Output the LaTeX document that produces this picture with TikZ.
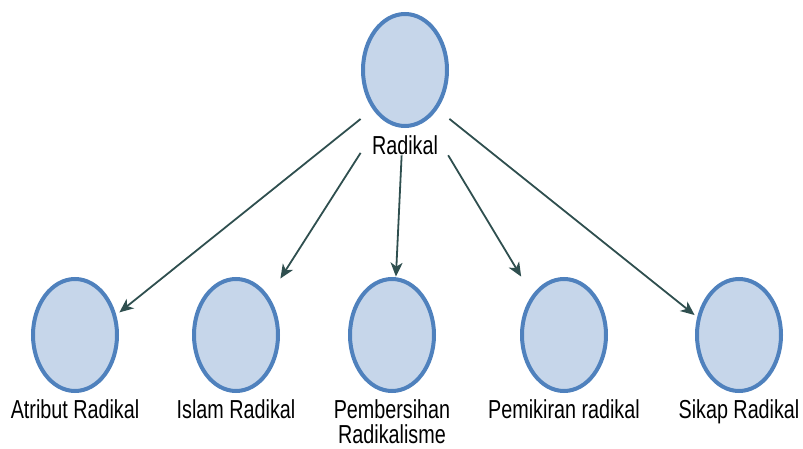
\documentclass[tikz,border=0pt]{standalone}
\usepackage{fontspec}
\setmainfont{Liberation Sans}[FakeStretch=0.76]
\usetikzlibrary{positioning,fit,shapes.geometric,arrows.meta}
\definecolor{bubblefill}{RGB}{198,214,234}
\definecolor{bubbleline}{RGB}{79,129,189}
\definecolor{linkcol}{RGB}{47,79,79}

\begin{document}
\begin{tikzpicture}[x=0.5pt,y=-0.5pt,
  bubble/.style={ellipse, draw=bubbleline, fill=bubblefill, line width=2pt,
                 minimum width=42pt, minimum height=56pt, inner sep=0pt},
  lbl/.style={inner sep=0pt, font=\fontsize{13}{12.8}\selectfont, align=center},
  hull/.style={inner sep=0pt},
  link/.style={draw=linkcol, line width=0.9pt,
               -{Stealth[length=7pt,width=6pt,inset=2pt]}}]
%
\useasboundingbox (0,0) rectangle (803,449);
%
%''''''''''''''''''''''''''''top concept''''''''''''''''''''''''''''''''''''''''''''''''
\node[bubble] (rad) at (405,70) {};
\node[lbl, below=3.5pt of rad] (radlbl) {Radikal};
\node[hull, fit=(rad)(radlbl.south)] (radbox) {};
%
%''''''''''''''''''''''''''''sub concepts'''''''''''''''''''''''''''''''''''''''''''''''
\def\yb{335}
\node[bubble] (atr) at (75,\yb) {};
\node[lbl, below=3pt of atr] (atrlbl) {Atribut Radikal};
\node[hull, fit=(atr)(atrlbl.south)] (atrbox) {};
%
\node[bubble] (isl) at (236,\yb) {};
\node[lbl, below=3pt of isl] (isllbl) {Islam Radikal};
\node[hull, fit=(isl)(isllbl.south)] (islbox) {};
%
\node[bubble] (pem) at (392,\yb) {};
\node[lbl, below=3pt of pem] (pemlbl) {Pembersihan\\Radikalisme};
\node[hull, fit=(pem)(pemlbl.south)] (pembox) {};
%
\node[bubble] (pik) at (564,\yb) {};
\node[lbl, below=3pt of pik] (piklbl) {Pemikiran radikal};
\node[hull, fit=(pik)(piklbl.south)] (pikbox) {};
%
\node[bubble] (sik) at (739,\yb) {};
\node[lbl, below=3pt of sik] (siklbl) {Sikap Radikal};
\node[hull, fit=(sik)(siklbl.south)] (sikbox) {};
%
% links
\draw[link] (radbox) -- (atrbox);
\draw[link] (radbox) -- (islbox);
\draw[link] (radbox) -- (pembox);
\draw[link] (radbox) -- (pikbox);
\draw[link] (radbox) -- (sikbox);
%
\end{tikzpicture}
\end{document}
